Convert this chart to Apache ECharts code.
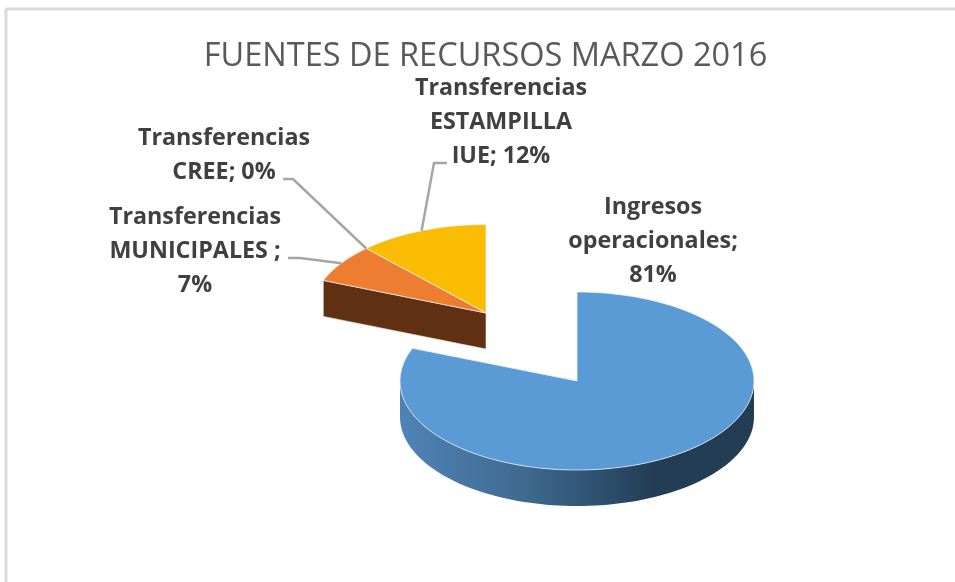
<!DOCTYPE html>
<html>
<head>
<meta charset="utf-8">
<title>FUENTES DE RECURSOS MARZO 2016</title>
<script src="https://cdn.jsdelivr.net/npm/echarts@6/dist/echarts.min.js"></script>
<style>
html, body { margin: 0; padding: 0; background: #fff; }
#myChart { width: 955px; height: 582px; }
</style>
</head>
<body>
<div id="myChart"></div>
<script>
const chartTitle = 'FUENTES DE RECURSOS MARZO 2016'
const categories = ['Ingresos operacionales', 'Transferencias MUNICIPALES', 'Transferencias CREE', 'Transferencias ESTAMPILLA IUE']
const shares = [81, 7, 0, 12]
const labelTexts = [
  'Ingresos\noperacionales;\n81%',
  'Transferencias\nMUNICIPALES ;\n7%',
  'Transferencias\nCREE; 0%',
  'Transferencias\nESTAMPILLA\nIUE; 12%'
]
const topColors = ['#5B9BD5', '#ED7D31', '#A5A5A5', '#FBBC04']

// layout of the 3d pie: the first slice stays, the others are pulled out together
const mainPie = { cx: 577, cy: 381, rx: 177, ry: 89 }
const pulledPie = { cx: 486, cy: 313, rx: 175, ry: 88.5 }
const depth = 36
const wallBrown = '#5F3112'
const labelPos = [[653, 241], [195, 251], [224, 155], [501, 122]]
const leaderStart = [null, [[288, 258], [300, 258]], [[283, 179], [293, 179]], [[447, 163], [434, 163]]]

function onRim (pie, deg, drop) {
  let a = deg * Math.PI / 180
  return [pie.cx + pie.rx * Math.sin(a), pie.cy - pie.ry * Math.cos(a) + (drop || 0)]
}

function arcPoints (pie, from, to, drop) {
  let pts = []
  let steps = Math.max(2, Math.ceil(Math.abs(to - from) / 2))
  for (let i = 0; i <= steps; i++) {
    pts.push(onRim(pie, from + (to - from) * i / steps, drop))
  }
  return pts
}

let myChart = echarts.init(document.getElementById('myChart'), null, { renderer: 'canvas' })
const total = shares.reduce((s, v) => s + v, 0)

function renderSlice (params, api) {
  let i = api.value(0)
  let before = shares.slice(0, i).reduce((s, v) => s + v, 0)
  let from = before / total * 360
  let to = (before + api.value(1)) / total * 360
  let pie = i === 0 ? mainPie : pulledPie
  let children = []

  if (to > from) {
    // outer wall, only the part facing the viewer
    let wallFrom = Math.max(from, 90)
    let wallTo = Math.min(to, 270)
    if (wallTo > wallFrom) {
      children.push({
        type: 'polygon',
        z2: 1,
        shape: { points: arcPoints(pie, wallFrom, wallTo, 0).concat(arcPoints(pie, wallTo, wallFrom, depth)) },
        style: {
          fill: new echarts.graphic.LinearGradient(0, 0, 1, 0, [
            { offset: 0, color: '#4F83B6' },
            { offset: 0.35, color: '#3F6A91' },
            { offset: 0.72, color: '#223D54' },
            { offset: 1, color: '#223D54' }
          ])
        }
      })
    }
    // cut wall on the open side of the pulled out group
    if (i === 1) {
      let p = onRim(pie, from)
      children.push({
        type: 'polygon',
        z2: 1,
        shape: { points: [[pie.cx, pie.cy], p, [p[0], p[1] + depth], [pie.cx, pie.cy + depth]] },
        style: { fill: wallBrown, stroke: '#F3E9E0', lineWidth: 0.6 }
      })
    }
    children.push({
      type: 'polygon',
      z2: i === 3 ? 2 : 3,
      shape: { points: [[pie.cx, pie.cy]].concat(arcPoints(pie, from, to)) },
      style: { fill: topColors[i], stroke: '#F4F6F8', lineWidth: 0.7 }
    })
  }

  if (leaderStart[i]) {
    children.push({
      type: 'polyline',
      z2: 4,
      shape: { points: leaderStart[i].concat([onRim(pie, (from + to) / 2)]) },
      style: { fill: 'none', stroke: '#A6A6A6', lineWidth: 2.5 }
    })
  }

  children.push({
    type: 'text',
    z2: 5,
    style: {
      text: labelTexts[i],
      x: labelPos[i][0],
      y: labelPos[i][1],
      align: 'center',
      verticalAlign: 'middle',
      fontFamily: '"Open Sans"',
      fontWeight: 'bold',
      fontSize: 23.3,
      lineHeight: 34,
      fill: '#404040'
    }
  })

  return { type: 'group', children: children }
}

var option = {
  backgroundColor: '#fff',
  animation: false,
  title: {
    text: chartTitle,
    left: 480.5,
    top: 35,
    textAlign: 'center',
    textStyle: {
      fontFamily: '"Open Sans"',
      fontWeight: 'normal',
      fontSize: 32.5,
      color: '#595959'
    }
  },
  graphic: [
    { type: 'line', shape: { x1: 6, y1: 9, x2: 955, y2: 9 }, style: { stroke: '#D9D9D9', lineWidth: 3 } },
    { type: 'line', shape: { x1: 6, y1: 9, x2: 6, y2: 582 }, style: { stroke: '#D9D9D9', lineWidth: 3 } }
  ],
  series: [
    {
      type: 'custom',
      coordinateSystem: 'none',
      renderItem: renderSlice,
      silent: true,
      data: categories.map((name, i) => ({ name: name, value: [i, shares[i]] }))
    }
  ]
}

myChart.setOption(option)
</script>
</body>
</html>
